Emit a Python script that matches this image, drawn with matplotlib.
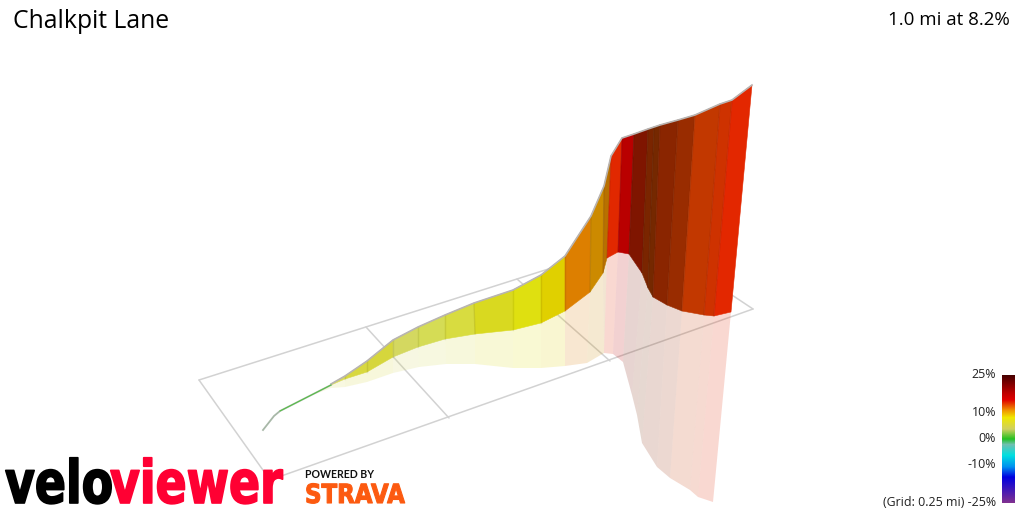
import matplotlib
matplotlib.use("Agg")
import matplotlib.pyplot as plt
import numpy as np
from matplotlib.colors import LinearSegmentedColormap
from matplotlib.patheffects import AbstractPathEffect
from matplotlib.transforms import Affine2D

top_x = [331, 345, 367, 393, 418, 445, 474, 513, 541, 565, 591, 604, 611, 622, 634, 648, 654, 660, 678, 695, 720, 732, 752]
top_y = [384, 376, 361, 340, 327, 315, 303, 290, 275, 256, 216, 186, 156, 138, 134, 129, 127, 125, 120, 115, 104, 100, 85]
base_x = [331, 345, 367, 393, 418, 445, 475, 513, 541, 565, 590, 603, 607, 618, 629, 642, 648, 653, 667, 682, 704, 714, 731]
base_y = [385, 379, 372, 357, 347, 339, 334, 330, 323, 311, 292, 273, 258, 252, 254, 273, 288, 297, 305, 311, 315, 316, 312]
mirror_x = [331, 345, 367, 393, 419, 446, 475, 513, 541, 565, 587, 604, 604, 613, 623, 632, 637, 642, 657, 670, 690, 698, 713]
mirror_y = [388, 387, 382, 373, 367, 364, 364, 368, 368, 366, 363, 353, 353, 354, 362, 395, 415, 443, 467, 478, 490, 497, 502]
strip_colors = ['#d9da5a', '#d8d840', '#d6d63c', '#d4d860', '#d5dc55', '#d8dc40', '#d9d920', '#dfe010',
                '#e0d000', '#dd7f00', '#cc8a00', '#b87000', '#e12800', '#b90000', '#7f1500', '#7a2500',
                '#752800', '#8a2500', '#992c00', '#c23800', '#ce3200', '#e32700']

lead_x = [263, 274, 280, 331]
lead_y = [430, 416, 411, 385]

grid_lines = [
    ([199, 646], [380, 238]),
    ([646, 753], [238, 309]),
    ([753, 270], [309, 480]),
    ([270, 199], [480, 380]),
    ([366, 449], [327, 418]),
    ([517, 610], [279, 361]),
]

bar_stops = [(0.0, '#7f3090'), (0.2, '#0000e0'), (0.28, '#0090f0'), (0.37, '#00e0e0'), (0.455, '#70c0b0'),
             (0.50, '#20c020'), (0.58, '#d0d060'), (0.67, '#f0e800'), (0.73, '#f09000'), (0.81, '#e00000'),
             (0.86, '#c00000'), (1.0, '#480000')]
bar_labels = ['25%', '10%', '0%', '-10%', '(Grid: 0.25 mi) -25%']
bar_label_y = [375, 413, 439, 464, 502]


class StretchY(AbstractPathEffect):
    # logo lettering is taller and heavier than any installed font
    def __init__(self, baseline, sy, weight):
        super().__init__()
        self.baseline = baseline
        self.sy = sy
        self.weight = weight

    def draw_path(self, renderer, gc, tpath, affine, rgbFace=None):
        stretch = Affine2D().translate(0, -self.baseline).scale(1, self.sy).translate(0, self.baseline)
        gc0 = renderer.new_gc()
        gc0.copy_properties(gc)
        gc0.set_foreground(rgbFace)
        gc0.set_linewidth(self.weight)
        renderer.draw_path(gc0, tpath, affine + stretch, rgbFace)
        gc0.restore()


plt.rcParams['font.family'] = ['Open Sans', 'DejaVu Sans']

fig = plt.figure(figsize=(10.24, 5.12), dpi=100)
ax = fig.add_axes([0, 0, 1, 1])

for xs, ys in grid_lines:
    ax.plot(xs, ys, color='#d2d2d2', lw=1.1, zorder=1, solid_capstyle='round')

# pale start of the reflection under the green lead-in
ax.fill([305, 331, 331], [398, 385, 388], color='#d9da5a', alpha=0.18, lw=0, zorder=2)

# reflection first, then the wall over it
for i, c in enumerate(strip_colors):
    ax.fill([base_x[i], base_x[i + 1], mirror_x[i + 1], mirror_x[i]],
            [base_y[i], base_y[i + 1], mirror_y[i + 1], mirror_y[i]],
            facecolor=c, edgecolor='none', alpha=0.18, zorder=2)

for i, c in enumerate(strip_colors):
    ax.fill([top_x[i], top_x[i + 1], base_x[i + 1], base_x[i]],
            [top_y[i], top_y[i + 1], base_y[i + 1], base_y[i]],
            facecolor=c, edgecolor=c, lw=0.4, zorder=3)

for i in range(1, len(top_x) - 1):
    ax.plot([top_x[i], base_x[i]], [top_y[i], base_y[i]], color='#000000', alpha=0.08, lw=1, zorder=4)

ax.plot(top_x, top_y, color='#b8b4b2', lw=1.2, zorder=5, solid_joinstyle='round')
ax.plot(lead_x, lead_y, color='#a8b8a8', lw=1.3, zorder=5)
ax.plot(lead_x[2:], lead_y[2:], color='#50c040', lw=0.7, zorder=6)

ax.text(13, 21, 'Chalkpit Lane', fontsize=17.8, color='#000000', ha='left', va='center')
ax.text(1010, 20, '1.0 mi at 8.2%', fontsize=13.5, color='#000000', ha='right', va='center')

# colour scale
bar_cmap = LinearSegmentedColormap.from_list('grade', bar_stops)
ax.imshow(np.linspace(1, 0, 128).reshape(-1, 1), cmap=bar_cmap, extent=(1002, 1015, 503, 375),
          aspect='auto', zorder=3)
for label, y in zip(bar_labels, bar_label_y):
    ax.text(996, y, label, fontsize=8.9, color='#202020', ha='right', va='center', zorder=6)

# logo, baseline at y=503 is 9 px up from the bottom of the figure
ax.text(5, 503, 'velo', fontsize=33, fontweight='bold', family='DejaVu Sans', color='#000000',
        ha='left', va='baseline', zorder=8, path_effects=[StretchY(9, 1.3, 1.2)])
ax.text(110, 503, 'viewer', fontsize=33, fontweight='bold', family='DejaVu Sans', color='#ff0033',
        ha='left', va='baseline', zorder=8, path_effects=[StretchY(9, 1.3, 1.2)])
ax.text(305, 474, 'POWERED BY', fontsize=7.6, fontweight='bold', family='Lato', color='#111111',
        ha='left', va='center', zorder=8)
ax.text(305, 503, 'STRAVA', fontsize=16.5, fontweight='bold', family='DejaVu Sans', color='#fc5a10',
        ha='left', va='baseline', zorder=8, path_effects=[StretchY(9, 1.15, 0.8)])

ax.set_xlim(0, 1024)
ax.set_ylim(512, 0)
ax.axis('off')

fig.savefig('out.png', dpi=100, facecolor='white')
